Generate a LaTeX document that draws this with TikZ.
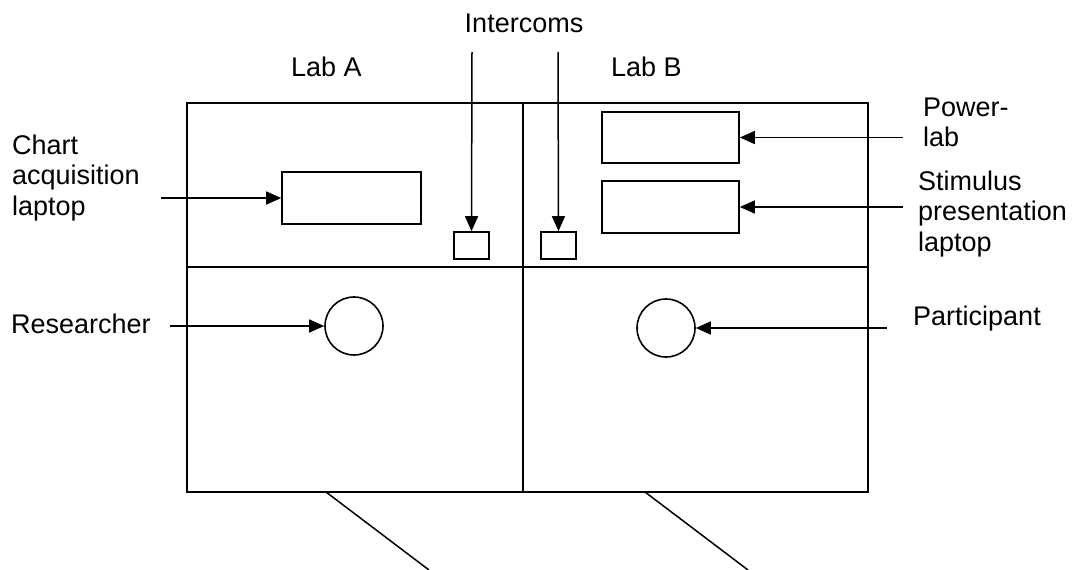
\documentclass[tikz,border=0pt]{standalone}
\usepackage{fontspec}
\setmainfont{Liberation Sans}
\usetikzlibrary{arrows.meta}
\begin{document}
\begin{tikzpicture}[x=1pt,y=-1pt,
  wall/.style={line width=1.6pt},
  box/.style={draw, line width=1.6pt, inner sep=0pt},
  lbl/.style={inner sep=0pt, font=\fontsize{27}{30.5}\selectfont, align=left},
  arr/.style={line width=1.5pt, -{Triangle[length=15pt,width=13pt]}},
  plain/.style={line width=1.5pt}]
\useasboundingbox (0,0) rectangle (1085,570);
% rooms
\draw[wall] (187,103) rectangle (868,492);
\draw[wall] (523,103) -- (523,492);
\draw[wall] (187,267) -- (868,267);
% equipment
\node[box, minimum width=139pt, minimum height=52pt] (chartpc) at (351.5,198) {};
\node[box, minimum width=35pt, minimum height=27pt] (icA) at (471.5,245.5) {};
\node[box, minimum width=35pt, minimum height=27pt] (icB) at (558.5,245.5) {};
\node[box, minimum width=137pt, minimum height=51pt] (plab) at (670.5,137.5) {};
\node[box, minimum width=137pt, minimum height=52pt] (stim) at (670.5,207) {};
\node[box, circle, minimum size=58pt] (res) at (354,326) {};
\node[box, circle, minimum size=58pt] (part) at (666,328) {};
% labels
\node[lbl, anchor=base] (tInter) at (524,32) {Intercoms};
\node[lbl, anchor=base west] (tLabA) at (291,76) {Lab A};
\node[lbl, anchor=base west] (tLabB) at (611,76) {Lab B};
\node[lbl, anchor=north west] (tChart) at (12,134.5) {Chart\\acquisition\\laptop};
\node[lbl, anchor=base west] (tRes) at (11,333) {Researcher};
\node[lbl, anchor=base west] (tPart) at (913,325) {Participant};
\node[lbl, anchor=north west] (tPow) at (923,97.5) {Power-\\lab};
\node[lbl, anchor=north west] (tStim) at (918,170.5) {Stimulus\\presentation\\laptop};
% arrow tails
\coordinate (sInA) at (472,52);
\coordinate (sInB) at (558,52);
\coordinate (sChart) at (161,198);
\coordinate (sPow) at (903,137.5);
\coordinate (sStim) at (903,207);
\coordinate (sRes) at (170,326);
\coordinate (sPart) at (887,328);
\draw[arr] (sInA) -- (icA.north);
\draw[arr] (sInB) -- (icB.north);
\draw[arr] (sChart) -- (chartpc.west);
\draw[arr] (sPow) -- (plab.east);
\draw[arr] (sStim) -- (stim.east);
\draw[arr] (sRes) -- (res.west);
\draw[arr] (sPart) -- (part.east);
% doors / corridor lines
\coordinate (dA1) at (326,492);
\coordinate (dA2) at (429,570);
\coordinate (dB1) at (645,492);
\coordinate (dB2) at (748,570);
\draw[plain] (dA1) -- (dA2);
\draw[plain] (dB1) -- (dB2);
\end{tikzpicture}
\end{document}
